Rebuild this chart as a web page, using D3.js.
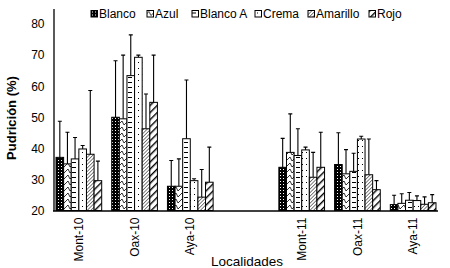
<!DOCTYPE html>
<html>
<head>
<meta charset="utf-8">
<script src="https://cdn.jsdelivr.net/npm/d3@7"></script>
<style>
  body { margin: 0; background: #fff; }
  text { font-family: "Liberation Sans", Arial, sans-serif; fill: #000; }
</style>
</head>
<body>
<script>
// categories on the x axis ("" is the empty slot between the two years)
let localidades = ["Mont-10", "Oax-10", "Aya-10", "", "Mont-11", "Oax-11", "Aya-11"]
let variedades = ["Blanco", "Azul", "Blanco A", "Crema", "Amarillo", "Rojo"]

// mean rot (%) per locality, one array per variety
let blanco   = [37.1, 50.0, 27.8, null, 33.9, 34.8, 21.9]
let azul     = [35.0, 49.5, 27.8, null, 38.7, 31.8, 22.3]
let blancoA  = [36.6, 63.4, 43.1, null, 37.7, 32.6, 23.3]
let crema    = [39.8, 69.3, 29.6, null, 39.5, 43.0, 23.2]
let amarillo = [38.1, 46.3, 24.3, null, 30.7, 31.5, 22.0]
let rojo     = [29.6, 54.8, 29.1, null, 33.9, 26.7, 22.5]

// upper error (top of error bar minus mean)
let errBlanco   = [11.6, 18.2, 8.3, null, 9.3, 10.2, 3.0]
let errAzul     = [10.2, 20.5, 8.8, null, 12.4, 7.8, 3.1]
let errBlancoA  = [6.9, 13.1, 18.9, null, 8.6, 5.8, 2.5]
let errCrema    = [1.1, 0.7, 0.6, null, 0.9, 0.9, 1.5]
let errAmarillo = [20.5, 11.2, 8.9, null, 8.0, 11.5, 2.4]
let errRojo     = [6.3, 15.2, 11.3, null, 11.3, 2.9, 2.6]

let yTicks = [20, 30, 40, 50, 60, 70, 80]

let series = [blanco, azul, blancoA, crema, amarillo, rojo]
let errors = [errBlanco, errAzul, errBlancoA, errCrema, errAmarillo, errRojo]
let patternIds = ["pBlanco", "pAzul", "pBlancoA", "pCrema", "pAmarillo", "pRojo"]

let width = 450
let height = 268

let svg = d3.select('body')
  .append('svg')
  .attr('width', width)
  .attr('height', height)

// fill patterns
let defs = svg.append('defs')

let p1 = defs.append('pattern').attr('id', 'pBlanco').attr('patternUnits', 'userSpaceOnUse')
  .attr('width', 3).attr('height', 3)
p1.append('rect').attr('width', 3).attr('height', 3).attr('fill', '#000')
p1.append('rect').attr('x', 1).attr('y', 1).attr('width', 1).attr('height', 1).attr('fill', '#fff')

let p2 = defs.append('pattern').attr('id', 'pAzul').attr('patternUnits', 'userSpaceOnUse')
  .attr('width', 6).attr('height', 6)
p2.append('rect').attr('width', 6).attr('height', 6).attr('fill', '#fff')
p2.append('path').attr('d', 'M0,3 L2,1 M2,1 L4,5 M4,5 L6,3').attr('stroke', '#000').attr('stroke-width', 0.8).attr('fill', 'none')

let p3 = defs.append('pattern').attr('id', 'pBlancoA').attr('patternUnits', 'userSpaceOnUse')
  .attr('width', 8).attr('height', 5)
p3.append('rect').attr('width', 8).attr('height', 5).attr('fill', '#fff')
p3.append('path').attr('d', 'M0,2.5 H4').attr('stroke', '#000').attr('stroke-width', 1)

let p4 = defs.append('pattern').attr('id', 'pCrema').attr('patternUnits', 'userSpaceOnUse')
  .attr('width', 4).attr('height', 6)
p4.append('rect').attr('width', 4).attr('height', 6).attr('fill', '#fff')
p4.append('rect').attr('x', 2).attr('y', 2).attr('width', 1).attr('height', 1).attr('fill', '#000')

let p5 = defs.append('pattern').attr('id', 'pAmarillo').attr('patternUnits', 'userSpaceOnUse')
  .attr('width', 2.5).attr('height', 2.5).attr('patternTransform', 'rotate(45)')
p5.append('rect').attr('width', 2.5).attr('height', 2.5).attr('fill', '#fff')
p5.append('line').attr('x1', 0).attr('y1', 0).attr('x2', 0).attr('y2', 2.5).attr('stroke', '#000').attr('stroke-width', 1)

let p6 = defs.append('pattern').attr('id', 'pRojo').attr('patternUnits', 'userSpaceOnUse')
  .attr('width', 5).attr('height', 5).attr('patternTransform', 'rotate(45)')
p6.append('rect').attr('width', 5).attr('height', 5).attr('fill', '#fff')
p6.append('line').attr('x1', 0).attr('y1', 0).attr('x2', 0).attr('y2', 5).attr('stroke', '#000').attr('stroke-width', 2.8)

// scales
let scaleX = d3.scaleBand()
  .domain(localidades.map((d, i) => i))
  .range([51, 441])
  .paddingInner(0.18)
  .paddingOuter(0.09)

let scaleSub = d3.scaleBand()
  .domain(d3.range(variedades.length))
  .range([0, scaleX.bandwidth()])

let scaleY = d3.scaleLinear()
  .domain([20, 85])
  .range([210.5, 8.5])

// axes
let yAxis = d3.axisLeft(scaleY).tickValues(yTicks).tickSize(0).tickPadding(9)
let gy = svg.append('g').attr('transform', 'translate(53.5,0)').call(yAxis)
gy.select('.domain').attr('stroke', '#000').attr('stroke-width', 1.3)
gy.selectAll('text').attr('font-size', 12).attr('font-family', '"Liberation Sans", Arial, sans-serif')

// bars
for (let s = 0; s < series.length; s++) {
  let data = series[s].map((v, i) => ({v: v, e: errors[s][i], i: i})).filter(d => d.v != null)
  let g = svg.append('g')

  g.selectAll('path.err')
    .data(data)
    .enter()
    .append('path')
    .attr('class', 'err')
    .attr('d', d => {
      let cx = scaleX(d.i) + scaleSub(s) + scaleSub.bandwidth() / 2
      let y0 = scaleY(d.v), y1 = scaleY(d.v + d.e)
      return 'M' + cx + ',' + y0 + ' V' + y1 + ' M' + (cx - 2) + ',' + y1 + ' H' + (cx + 2)
    })
    .attr('stroke', '#000')
    .attr('stroke-width', 1.1)
    .attr('fill', 'none')

  g.selectAll('rect')
    .data(data)
    .enter()
    .append('rect')
    .attr('x', d => scaleX(d.i) + scaleSub(s))
    .attr('y', d => scaleY(d.v))
    .attr('width', scaleSub.bandwidth())
    .attr('height', d => scaleY(20) - scaleY(d.v))
    .attr('fill', 'url(#' + patternIds[s] + ')')
    .attr('stroke', '#000')
    .attr('stroke-width', 1)
}

// x axis line and labels
let xAxis = d3.axisBottom(scaleX).tickSize(0).tickPadding(7).tickFormat(i => localidades[i])
let gx = svg.append('g').attr('transform', 'translate(0,210.5)').call(xAxis)
gx.select('.domain').attr('d', 'M53,0.5 H438').attr('stroke', '#000').attr('stroke-width', 1.3)
gx.selectAll('text')
  .attr('font-size', 12)
  .attr('font-family', '"Liberation Sans", Arial, sans-serif')
  .attr('transform', 'rotate(-90)')
  .attr('text-anchor', 'end')
  .attr('x', -7)
  .attr('y', 0)
  .attr('dy', '0.35em')

// axis titles
svg.append('text')
  .attr('transform', 'translate(16,118) rotate(-90)')
  .attr('text-anchor', 'middle')
  .attr('font-size', 13)
  .attr('font-weight', 'bold')
  .text('Pudrición (%)')

svg.append('text')
  .attr('x', 247)
  .attr('y', 266)
  .attr('text-anchor', 'middle')
  .attr('font-size', 13.5)
  .text('Localidades')

// legend
let legendX = [91, 147, 192, 255, 308, 369]
let legend = svg.append('g').attr('class', 'legend')
variedades.forEach((name, s) => {
  let item = legend.append('g').attr('transform', 'translate(' + legendX[s] + ',10.5)')
  item.append('rect')
    .attr('width', 6.5).attr('height', 6.5)
    .attr('fill', 'url(#' + patternIds[s] + ')')
    .attr('stroke', '#000').attr('stroke-width', 1)
  item.append('text')
    .attr('x', 8)
    .attr('y', 7.8)
    .attr('font-size', 12)
    .text(name)
})
</script>
</body>
</html>
